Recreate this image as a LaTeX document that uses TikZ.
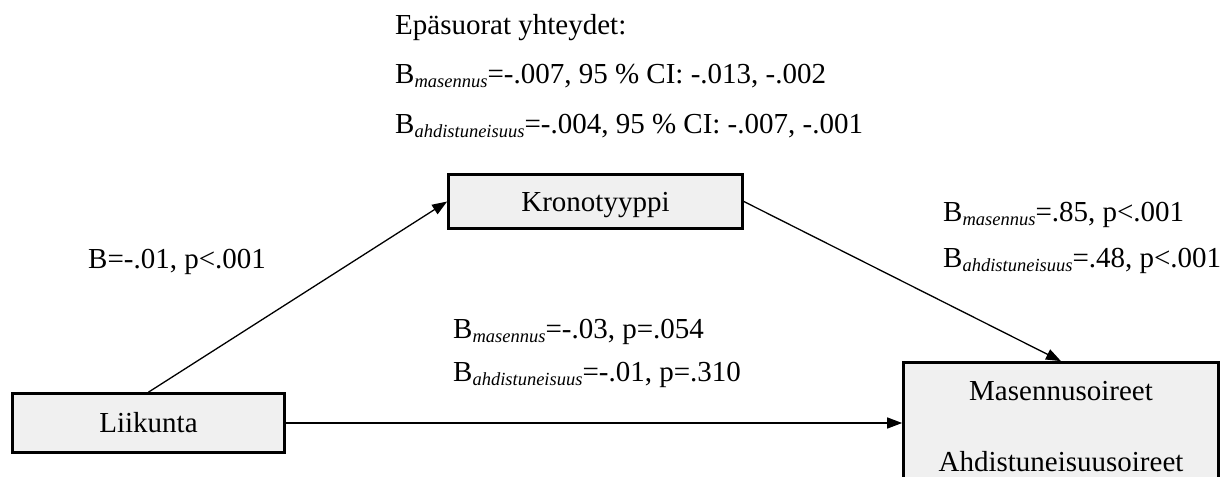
\documentclass[tikz,border=0pt]{standalone}
\usepackage{fontspec}
\setmainfont{Liberation Serif}
\usetikzlibrary{arrows.meta}
\definecolor{boxgray}{HTML}{F0F0F0}
% B with an italic, slightly lowered subscript
\newcommand\Bsub[1]{B\raisebox{-4pt}{\fontsize{18.5}{20}\selectfont\itshape #1}}

\begin{document}
\begin{tikzpicture}[x=1pt,y=-1pt,
  every node/.style={font=\fontsize{29}{35}\selectfont, inner sep=0pt},
  boxnode/.style={draw, line width=2.7pt, fill=boxgray},
  boxtext/.style={text height=19pt, text depth=0pt},
  lbl/.style={anchor=base west},
  link/.style={line width=1.3pt, -{Triangle[length=15pt,width=11pt]}}]
\useasboundingbox (0,0) rectangle (1230,476);
\clip (0,0) rectangle (1230,476);

% boxes
\node[boxnode, boxtext, minimum width=294pt, minimum height=54pt] (kron) at (595.5,201.5) {Kronotyyppi};
\node[boxnode, boxtext, minimum width=272pt, minimum height=59pt] (liik) at (148.5,423) {Liikunta};
\node[boxnode, minimum width=315pt, minimum height=150pt] (mas) at (1061,437.5) {};
\node[anchor=base] (masA) at (1061,400.7) {Masennusoireet};
\node[anchor=base] (masB) at (1061,471.7) {Ahdistuneisuusoireet};

% paths
\draw[link] (liik.north) -- (kron.west);
\draw[link] (kron.east) -- (mas.north);
\draw[link] (liik.east) -- (liik.east -| mas.west);

% indirect effects
\node[lbl] (ind0) at (395,35) {Epäsuorat yhteydet:};
\node[lbl] (ind1) at (395,84) {\Bsub{masennus}=-.007, 95 \% CI: -.013, -.002};
\node[lbl] (ind2) at (395,133) {\Bsub{ahdistuneisuus}=-.004, 95 \% CI: -.007, -.001};

% path coefficients
\node[lbl] (aLab) at (88,268) {B=-.01, p<.001};
\node[lbl] (bLab1) at (943,221) {\Bsub{masennus}=.85, p<.001};
\node[lbl] (bLab2) at (943,267) {\Bsub{ahdistuneisuus}=.48, p<.001};
\node[lbl] (cLab1) at (453,338) {\Bsub{masennus}=-.03, p=.054};
\node[lbl] (cLab2) at (453,381) {\Bsub{ahdistuneisuus}=-.01, p=.310};
\end{tikzpicture}
\end{document}
